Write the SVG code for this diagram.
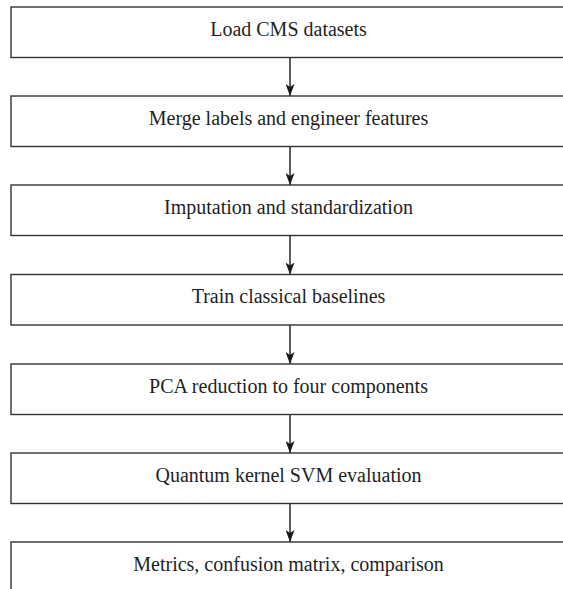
<svg xmlns="http://www.w3.org/2000/svg" width="563" height="589" viewBox="0 0 563 589">
<style>
.box{fill:#fff;stroke:#333;stroke-width:1.4}
.lbl{font-family:'Liberation Serif','Times New Roman',Tinos,'DejaVu Serif',serif;font-size:20px;fill:#1f1f1f;text-anchor:middle}
.conn{stroke:#1a1a1a;stroke-width:1.4;fill:none;marker-end:url(#ah)}
</style>
<defs>
<marker id="ah" markerWidth="13" markerHeight="9" refX="12" refY="4.5" orient="auto" markerUnits="userSpaceOnUse" viewBox="0 0 13 9">
<path d="M0,0 L12,4.5 L0,9 L3,4.5 Z" fill="#1a1a1a"/>
</marker>
</defs>
<rect width="563" height="589" fill="#fff"/>
<g id="connectors">
<line class="conn" x1="290" y1="57.5" x2="290" y2="96"/>
<line class="conn" x1="290" y1="146.7" x2="290" y2="185"/>
<line class="conn" x1="290" y1="235.8" x2="290" y2="274.5"/>
<line class="conn" x1="290" y1="325" x2="290" y2="364"/>
<line class="conn" x1="290" y1="414" x2="290" y2="453"/>
<line class="conn" x1="290" y1="503.3" x2="290" y2="542"/>
</g>
<g id="n1"><rect class="box" x="11" y="7" width="558" height="50.5"/><text class="lbl" x="288.5" y="35.8">Load CMS datasets</text></g>
<g id="n2"><rect class="box" x="11" y="96" width="558" height="50.5"/><text class="lbl" x="288.5" y="124.8">Merge labels and engineer features</text></g>
<g id="n3"><rect class="box" x="11" y="185" width="558" height="50.5"/><text class="lbl" x="288.5" y="213.8">Imputation and standardization</text></g>
<g id="n4"><rect class="box" x="11" y="274.5" width="558" height="50.5"/><text class="lbl" x="288.5" y="303.3">Train classical baselines</text></g>
<g id="n5"><rect class="box" x="11" y="364" width="558" height="50.5"/><text class="lbl" x="288.5" y="392.8">PCA reduction to four components</text></g>
<g id="n6"><rect class="box" x="11" y="453" width="558" height="50.5"/><text class="lbl" x="288.5" y="481.8">Quantum kernel SVM evaluation</text></g>
<g id="n7"><rect class="box" x="11" y="542" width="558" height="50.5"/><text class="lbl" x="288.5" y="570.8">Metrics, confusion matrix, comparison</text></g>
</svg>
